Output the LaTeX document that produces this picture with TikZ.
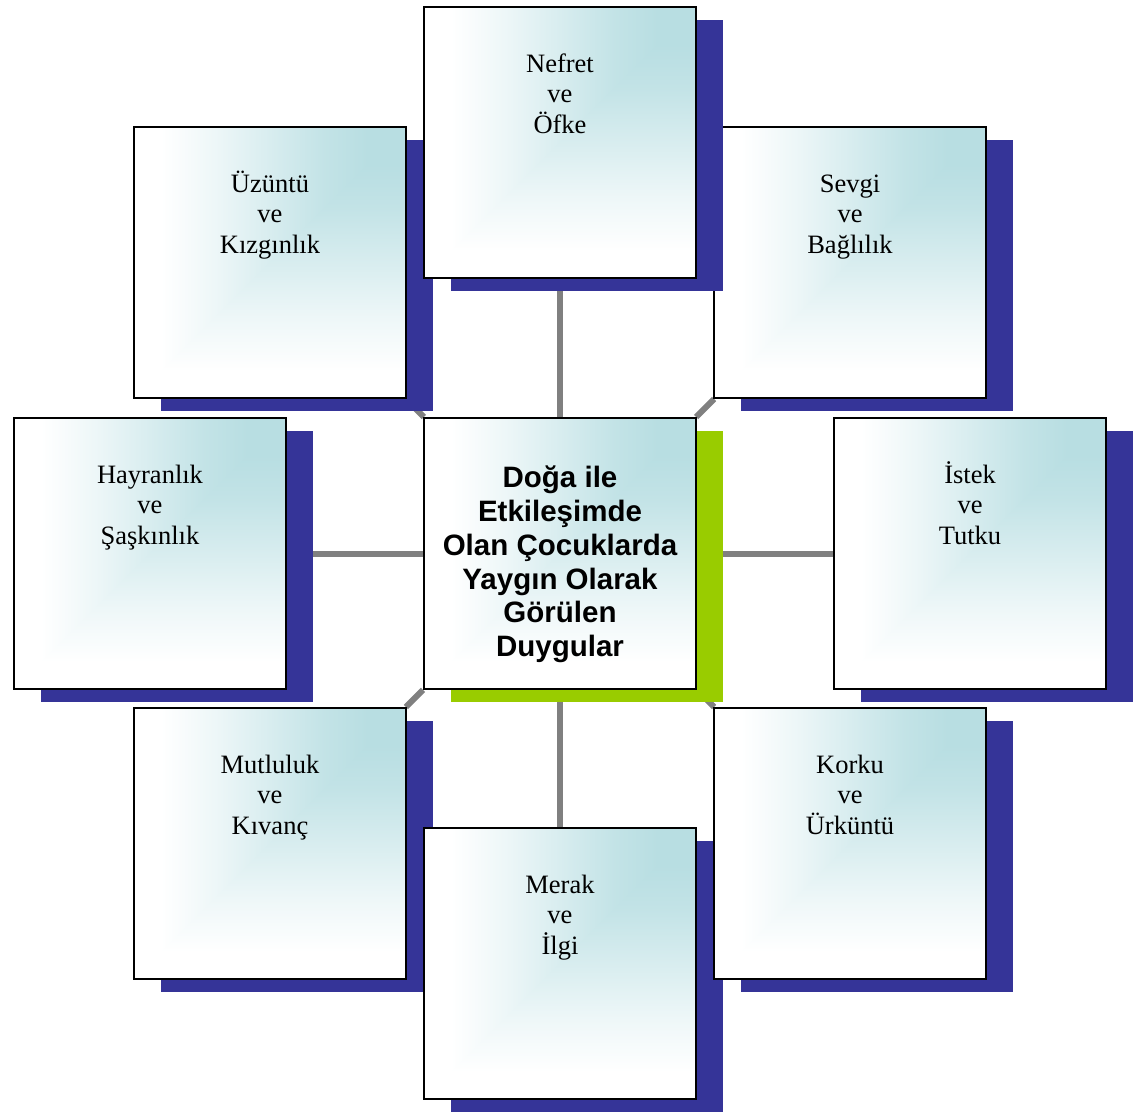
\documentclass[tikz,border=0pt]{standalone}
\usepackage{fontspec}
\setmainfont{Liberation Serif}
\newfontfamily\merkezfont{Liberation Sans}
\usetikzlibrary{positioning, shadows}
\definecolor{lacivert}{RGB}{53,52,152}
\definecolor{yesil}{RGB}{153,204,0}
\definecolor{turkuaz}{RGB}{184,222,226}
\definecolor{gri}{RGB}{128,128,128}
% gradients of the boxes (the inner 25bp--75bp fill the box)
\pgfdeclarehorizontalshading{yatay}{100bp}{color(0bp)=(white); color(30bp)=(white);
  color(40bp)=(turkuaz!25!white); color(50bp)=(turkuaz!55!white); color(60bp)=(turkuaz!85!white);
  color(68bp)=(turkuaz); color(100bp)=(turkuaz)}
\pgfdeclareverticalshading{dikey}{100bp}{color(0bp)=(white); color(30bp)=(white);
  color(40bp)=(turkuaz!25!white); color(50bp)=(turkuaz!55!white); color(60bp)=(turkuaz!85!white);
  color(68bp)=(turkuaz); color(100bp)=(turkuaz)}
\newcommand{\ust}{\rule{0pt}{26pt}} % fixed height of the first line
\pgfdeclarelayer{background}
\pgfsetlayers{background,main}
\tikzset{
x=1pt, y=-1pt, % one unit is one pixel of the page
kutu/.style={draw=black, line width=2pt, minimum width=272pt, minimum height=271pt,
  path picture={
    \shade[shading=yatay] (path picture bounding box.south west) rectangle (path picture bounding box.north east);
    \begin{scope}
      \clip (path picture bounding box.south west) -- (path picture bounding box.south east)
        -- (path picture bounding box.north east) -- cycle;
      \shade[shading=dikey] (path picture bounding box.south west) rectangle (path picture bounding box.north east);
    \end{scope}
  }}, % every box, teal from the top right corner
golge/.style={general shadow={fill=#1, shadow xshift=26.5pt, shadow yshift=-13pt}}, % offset shadow
yazi/.style={inner sep=0pt, outer sep=0pt, align=center, font=\fontsize{26.5}{30.5}\selectfont}, % three lines in the top of a box
baglanti/.style={draw=gri, line width=6pt}, % grey lines to the middle
}
\begin{document}
\begin{tikzpicture}
    \useasboundingbox (0,0) rectangle (1144,1112);
    \node[kutu, golge=yesil] (merkez) at (560,553.5) {};
    \node[align=center, font=\merkezfont\bfseries\fontsize{29.5}{33.8}\selectfont] (t-merkez) at ([yshift=-11pt]merkez.center)
        {Doğa ile\\Etkileşimde\\Olan Çocuklarda\\Yaygın Olarak\\Görülen\\Duygular};
    \node[kutu, golge=lacivert, left=136pt of merkez] (hayranlik) {};
    \node[yazi, below=40pt of hayranlik.north] (t-hayranlik) {\ust Hayranlık\\ve\\Şaşkınlık};
    \node[kutu, golge=lacivert, above left=18pt and 16pt of merkez] (uzuntu) {};
    \node[yazi, below=40pt of uzuntu.north] (t-uzuntu) {\ust Üzüntü\\ve\\Kızgınlık};
    \node[kutu, golge=lacivert, above right=18pt and 16pt of merkez] (sevgi) {};
    \node[yazi, below=40pt of sevgi.north] (t-sevgi) {\ust Sevgi\\ve\\Bağlılık};
    \node[kutu, golge=lacivert, above=138pt of merkez] (nefret) {};
    \node[yazi, below=40pt of nefret.north] (t-nefret) {\ust Nefret\\ve\\Öfke};
    \node[kutu, golge=lacivert, right=136pt of merkez] (istek) {};
    \node[yazi, below=40pt of istek.north] (t-istek) {\ust İstek\\ve\\Tutku};
    \node[kutu, golge=lacivert, below left=17pt and 16pt of merkez] (mutluluk) {};
    \node[yazi, below=40pt of mutluluk.north] (t-mutluluk) {\ust Mutluluk\\ve\\Kıvanç};
    \node[kutu, golge=lacivert, below=137pt of merkez] (merak) {};
    \node[yazi, below=40pt of merak.north] (t-merak) {\ust Merak\\ve\\İlgi};
    \node[kutu, golge=lacivert, below right=17pt and 16pt of merkez] (korku) {};
    \node[yazi, below=40pt of korku.north] (t-korku) {\ust Korku\\ve\\Ürküntü};
    \begin{pgfonlayer}{background}
    \foreach \d in {nefret, uzuntu, sevgi, hayranlik, istek, mutluluk, merak, korku}
        \draw[baglanti] (merkez) -- (\d);
    \end{pgfonlayer}
\end{tikzpicture}
\end{document}
